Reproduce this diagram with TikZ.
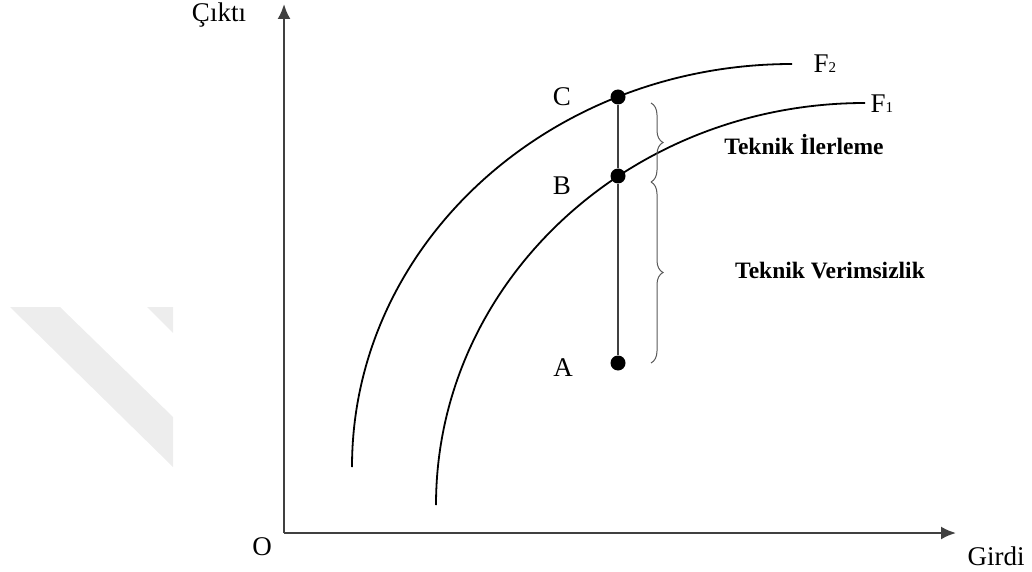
\documentclass[tikz,border=0pt]{standalone}
\usepackage{fontspec}
\setmainfont{Liberation Serif}
\usetikzlibrary{positioning,arrows.meta,decorations.pathreplacing}
\newcommand{\lowsub}[1]{{\fontsize{15}{15}\selectfont #1}}
\tikzset{
    every node/.style={font=\fontsize{27}{30}\selectfont},
    axisline/.style={draw=black!75, line width=2.2pt, -{Latex[length=15pt,width=13pt]}},
    curveline/.style={draw=black, line width=1.8pt},
    dotnode/.style={circle, fill=black, inner sep=0pt, minimum size=15pt},
    braceline/.style={draw=black!65, line width=1pt, decorate, decoration={brace, amplitude=12pt}},
    boldlabel/.style={font=\fontsize{23.5}{28}\selectfont\bfseries},
    watermark/.style={fill=black!7, draw=none},
}
\begin{document}
\begin{tikzpicture}[x=1pt, y=1pt]
\useasboundingbox (0,0) rectangle (1032,571);
% faint mark in the background
\fill[watermark] (10,264) -- (60,264) -- (173,154) -- (173,104) -- cycle;
\fill[watermark] (147,264) -- (173,264) -- (173,238) -- cycle;
% axes
\coordinate (O) at (284,38);
\coordinate (ytip) at (284,567);
\coordinate (xtip) at (956,38);
\draw[axisline] (O) -- (ytip);
\draw[axisline] (O) -- (xtip);
\node[anchor=base] (lblO) at (262,16) {O};
\node[anchor=base] (cikti) at (219,549) {Çıktı};
\node[anchor=base] (girdi) at (996,6) {Girdi};
% frontiers
\coordinate (F2start) at (352,104);
\coordinate (F1start) at (436,66);
\draw[curveline] (F2start) arc[start angle=180, end angle=90, x radius=440, y radius=403] coordinate (F2end);
\draw[curveline] (F1start) arc[start angle=180, end angle=90, x radius=429, y radius=402] coordinate (F1end);
\node[anchor=base west] (F2) at (810,498) {F\lowsub{2}};
\node[anchor=base west] (F1) at (867,458) {F\lowsub{1}};
% points
\node[dotnode] (C) at (618,474) {};
\node[dotnode] (B) at (618,395) {};
\node[dotnode] (A) at (618,208) {};
\draw[black!75, line width=1.8pt] (C) -- (B) -- (A);
\node[left=36pt of C] (lblC) {C};
\node[left=36pt of B, yshift=-10pt] (lblB) {B};
\node[left=34pt of A, yshift=-5pt] (lblA) {A};
% braces
\coordinate (b1) at (651,468);
\coordinate (b2) at (651,389);
\coordinate (b3) at (651,208);
\draw[braceline] (b1) -- (b2);
\draw[braceline] (b2) -- (b3);
\node[boldlabel, anchor=base] (ilerleme) at (804,416) {Teknik İlerleme};
\node[boldlabel, anchor=base] (verimsiz) at (830,293) {Teknik Verimsizlik};
\end{tikzpicture}
\end{document}
